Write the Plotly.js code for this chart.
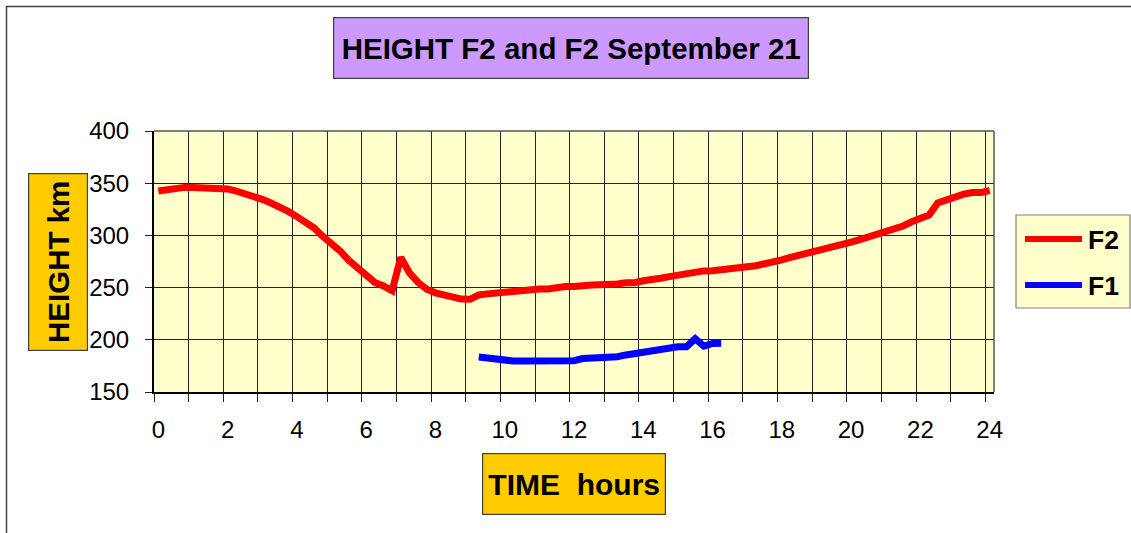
<!DOCTYPE html>
<html>
<head>
<meta charset="utf-8">
<script src="https://cdn.plot.ly/plotly-3.0.1.min.js"></script>
<style>html,body{margin:0;padding:0;background:#fff;}#chart{width:1131px;height:533px;}</style>
</head>
<body>
<div id="chart"></div>
<script>
// ---- data ----
var f2Hours = [0,0.25,0.5,0.75,1,1.25,1.5,1.75,2,2.25,2.5,2.75,3,3.25,3.5,3.75,4,4.25,4.5,4.75,5,5.25,5.5,5.75,6,6.25,6.5,6.75,7,7.25,7.5,7.75,8,8.25,8.5,8.75,9,9.25,9.5,9.75,10,10.25,10.5,10.75,11,11.25,11.5,11.75,12,12.25,12.5,12.75,13,13.25,13.5,13.75,14,14.25,14.5,14.75,15,15.25,15.5,15.75,16,16.25,16.5,16.75,17,17.25,17.5,17.75,18,18.25,18.5,18.75,19,19.25,19.5,19.75,20,20.25,20.5,20.75,21,21.25,21.5,21.75,22,22.25,22.5,22.75,23,23.25,23.5,23.75,24];
var f2Height = [342.5,344,345.5,346,346,346,346,346,344.5,342.5,340,338,334.5,331,327.5,323,318,313,307,299,293,285,276,269,263,255,251.5,247,279,264,255,248.5,245,242.5,240.5,239,238.8,243,244,245,245.5,246.5,247,248.5,248.7,248.7,250.5,251,251,251,252.5,252.8,252.8,253.5,254.7,254.7,256.5,258.5,259,260.5,262,262.5,264,266,266.2,267.5,268.5,269.5,270,271,272.5,274,276.5,279,281,282.5,284,286,288,291,293.5,296,298.5,301.5,304.5,306.5,309,313,316.5,319.5,331,334,337.5,339.5,341,341,343];
var f1Hours = [9.25,9.5,9.75,10,10.25,10.5,10.75,11,11.25,11.5,11.75,12,12.25,12.5,12.75,13,13.25,13.5,13.75,14,14.25,14.5,14.75,15,15.25,15.5,15.75,16,16.25];
var f1Height = [183.5,182.3,182.3,181.5,179.7,179.7,179.7,179.7,179.7,179.7,179.7,180,182,182.3,182.3,183.5,183.8,185.5,187,187.5,189,191.5,193,193.4,193.4,201,194,196.5,196.6];
var xTickVals = [0,2,4,6,8,10,12,14,16,18,20,22,24];
var xTickText = ['0','2','4','6','8','10','12','14','16','18','20','22','24'];
var yTickVals = [150,200,250,300,350,400];
var seriesNames = ['F2','F1'];
var seriesColors = ['#FF0000','#0000FF'];
var chartTitle = 'HEIGHT F2 and F2 September 21';
var xTitle = 'TIME&nbsp;&nbsp;hours';
var yTitle = 'HEIGHT km';

// ---- layout helpers (pixel -> paper) ----
var L = 154, R = 137, T = 131, B = 141, W = 1131, H = 533;
var PW = W - L - R, PH = H - T - B;
function px(x){ return (x - L) / PW; }
function py(y){ return (H - B - y) / PH; }
var FONT = '"Liberation Sans", Arial, sans-serif';

var traces = [
  {x: f2Hours, y: f2Height, name: seriesNames[0], type: 'scatter', mode: 'lines',
   line: {color: seriesColors[0], width: 7}, xaxis: 'x', yaxis: 'y', showlegend: false},
  {x: f1Hours, y: f1Height, name: seriesNames[1], type: 'scatter', mode: 'lines',
   line: {color: seriesColors[1], width: 7}, xaxis: 'x', yaxis: 'y', showlegend: false},
  // invisible trace to carry the label axis
  {x: [xTickVals[0]], y: [yTickVals[0]], xaxis: 'x2', yaxis: 'y', mode: 'markers',
   marker: {opacity: 0}, hoverinfo: 'skip', showlegend: false}
];

var shapes = [
  // outer chart border (left + top visible)
  {type: 'rect', xref: 'paper', yref: 'paper', x0: px(6.5), x1: px(1150), y0: py(560), y1: py(6.5),
   line: {color: '#404040', width: 1.5}, fillcolor: 'rgba(0,0,0,0)', layer: 'below'},
  // plot top & right border
  {type: 'line', xref: 'paper', yref: 'paper', x0: 0, x1: 1, y0: 1, y1: 1, line: {color: '#555', width: 1.5}},
  {type: 'line', xref: 'paper', yref: 'paper', x0: 1, x1: 1, y0: 0, y1: 1, line: {color: '#555', width: 1.5}},
  // legend box
  {type: 'rect', xref: 'paper', yref: 'paper', x0: px(1016), x1: px(1130), y0: py(308), y1: py(215),
   line: {color: '#808080', width: 1.2}, fillcolor: '#FFFFCC'},
  {type: 'line', xref: 'paper', yref: 'paper', x0: px(1025), x1: px(1082), y0: py(239), y1: py(239),
   line: {color: seriesColors[0], width: 6}},
  {type: 'line', xref: 'paper', yref: 'paper', x0: px(1025), x1: px(1082), y0: py(285), y1: py(285),
   line: {color: seriesColors[1], width: 6}}
];

var annotations = [
  {text: '<b>' + chartTitle + '</b>', xref: 'paper', yref: 'paper', x: px(571), y: py(48),
   xanchor: 'center', yanchor: 'middle', showarrow: false, width: 474, height: 60, borderpad: 0,
   bgcolor: '#CC99FF', bordercolor: '#404040', borderwidth: 1.2,
   font: {family: FONT, size: 29.5, color: '#000'}},
  {text: '<b>' + xTitle + '</b>', xref: 'paper', yref: 'paper', x: px(574), y: py(484),
   xanchor: 'center', yanchor: 'middle', showarrow: false, width: 182, height: 60, borderpad: 0,
   bgcolor: '#FFCC00', bordercolor: '#404040', borderwidth: 1.2,
   font: {family: FONT, size: 30, color: '#000'}},
  {text: '<b>' + yTitle + '</b>', xref: 'paper', yref: 'paper', x: px(58), y: py(262),
   xanchor: 'center', yanchor: 'middle', showarrow: false, textangle: -90, width: 176, height: 58, borderpad: 0,
   bgcolor: '#FFCC00', bordercolor: '#404040', borderwidth: 1.2,
   font: {family: FONT, size: 29.5, color: '#000'}},
  {text: '<b>' + seriesNames[0] + '</b>', xref: 'paper', yref: 'paper', x: px(1086), y: py(240),
   xanchor: 'left', yanchor: 'middle', showarrow: false, font: {family: FONT, size: 26.5, color: '#000'}},
  {text: '<b>' + seriesNames[1] + '</b>', xref: 'paper', yref: 'paper', x: px(1086), y: py(286),
   xanchor: 'left', yanchor: 'middle', showarrow: false, font: {family: FONT, size: 26.5, color: '#000'}}
];

var layout = {
  width: W, height: H,
  margin: {l: L, r: R, t: T, b: B, pad: 0},
  paper_bgcolor: '#FFFFFF', plot_bgcolor: '#FFFFCC',
  showlegend: false,
  xaxis: {type: 'linear', range: [-0.125, 24.125], tick0: -0.125, dtick: 1,
          showgrid: true, gridcolor: '#222222', gridwidth: 1,
          showticklabels: false, ticks: 'outside', ticklen: 8, tickwidth: 1, tickcolor: '#222',
          showline: true, linecolor: '#000', linewidth: 2, zeroline: false, fixedrange: true},
  xaxis2: {type: 'linear', range: [-0.125, 24.125], overlaying: 'x', anchor: 'y', side: 'bottom',
           tickmode: 'array', tickvals: xTickVals, ticktext: xTickText, showgrid: false, zeroline: false,
           ticks: '', showline: false, ticklabelstandoff: 21,
           tickfont: {family: FONT, size: 24, color: '#000'}},
  yaxis: {range: [150, 400], tickmode: 'array', tickvals: yTickVals,
          showgrid: true, gridcolor: '#222222', gridwidth: 1, zeroline: false,
          ticks: 'outside', ticklen: 7, tickwidth: 1, tickcolor: '#222', ticklabelstandoff: 11,
          showline: true, linecolor: '#000', linewidth: 2,
          tickfont: {family: FONT, size: 24, color: '#000'}, fixedrange: true},
  shapes: shapes,
  annotations: annotations
};

Plotly.newPlot('chart', traces, layout, {staticPlot: true, displayModeBar: false});
</script>
</body>
</html>
